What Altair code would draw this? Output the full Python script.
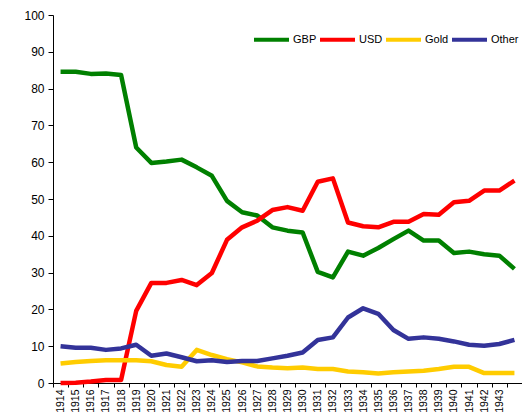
import altair as alt
import pandas as pd

years = [str(y) for y in range(1914, 1945)]
gbp = [84.6, 84.6, 84.0, 84.1, 83.7, 64.0, 59.8, 60.2, 60.7, 58.6, 56.3, 49.5, 46.4, 45.5, 42.3, 41.4,
       40.9, 30.2, 28.7, 35.7, 34.6, 36.7, 39.1, 41.4, 38.7, 38.7, 35.3, 35.7, 35.0, 34.6, 31.0]
usd = [0.0, 0.1, 0.4, 0.8, 0.8, 19.6, 27.2, 27.2, 28.0, 26.6, 29.9, 38.9, 42.3, 44.1, 47.0, 47.8,
       46.8, 54.7, 55.6, 43.6, 42.6, 42.3, 43.8, 43.8, 45.9, 45.7, 49.1, 49.5, 52.3, 52.3, 55.0]
gold = [5.3, 5.7, 6.0, 6.2, 6.2, 6.2, 5.9, 4.9, 4.4, 9.0, 7.6, 6.5, 5.6, 4.5, 4.2, 4.0,
        4.2, 3.8, 3.8, 3.1, 2.9, 2.6, 2.9, 3.1, 3.3, 3.8, 4.4, 4.4, 2.7, 2.7, 2.7]
other = [10.0, 9.6, 9.6, 9.0, 9.4, 10.4, 7.4, 8.0, 7.0, 5.9, 6.2, 5.7, 6.0, 6.0, 6.7, 7.4,
         8.3, 11.7, 12.4, 17.8, 20.3, 18.8, 14.4, 12.0, 12.4, 12.0, 11.3, 10.4, 10.1, 10.6, 11.7]

series = ["GBP", "USD", "Gold", "Other"]
colors = ["#008000", "#FF0000", "#FFCC00", "#333399"]
y_ticks = list(range(0, 101, 10))

rows = []
for name, vals in zip(series, [gbp, usd, gold, other]):
    for i, (yr, v) in enumerate(zip(years, vals)):
        rows.append({"year": yr, "value": v, "series": name, "order": series.index(name)})
df = pd.DataFrame(rows)

font = "Liberation Sans"

chart = alt.Chart(df).mark_line(strokeWidth=4.5, strokeJoin="round").encode(
    x=alt.X(
        "year:O",
        sort=years,
        bandPosition=0.5,
        scale=alt.Scale(type="band", paddingInner=0, paddingOuter=0),
        axis=alt.Axis(
            title=None,
            tickBand="extent",
            labelAngle=-90,
            labelExpr="datum.value == '1944' ? '' : datum.value",
            tickSize=4,
            labelPadding=2,
            labelFontSize=10.5,
        ),
    ),
    y=alt.Y(
        "value:Q",
        scale=alt.Scale(domain=[0, 100], nice=False),
        axis=alt.Axis(title=None, values=y_ticks, grid=False, tickSize=5, labelPadding=4, labelFontSize=12),
    ),
    color=alt.Color(
        "series:N",
        sort=series,
        scale=alt.Scale(domain=series, range=colors),
        legend=alt.Legend(
            title=None,
            orient="none",
            direction="horizontal",
            legendX=199,
            legendY=5,
            symbolType="stroke",
            symbolSize=1225,
            symbolStrokeWidth=4,
            labelFontSize=11,
            labelOffset=2,
            columnPadding=-5,
            padding=0,
        ),
    ),
    order=alt.Order("order:Q"),
).properties(
    width=469,
    height=368,
    autosize=alt.AutoSizeParams(type="none"),
    padding={"left": 45, "top": 7, "right": 0, "bottom": 29},
).configure_axis(
    domainColor="black",
    tickColor="black",
    labelColor="black",
    labelFont=font,
    domainWidth=1,
).configure_legend(
    labelFont=font,
    labelColor="black",
).configure_view(stroke=None)

chart.save("out.html", embed_options={"renderer": "svg", "actions": False})
